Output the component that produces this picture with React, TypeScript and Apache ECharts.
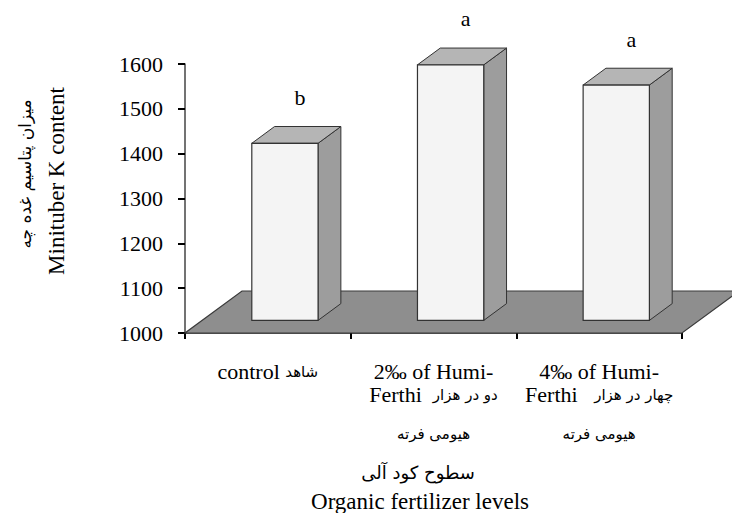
import React, { useEffect, useRef } from 'react';
import * as echarts from 'echarts';

// ---- data ----
const categories = ['control', '2‰ of Humi-Ferthi', '4‰ of Humi-Ferthi'];
const categoryLabels = [
  '{en|control }{fa|شاهد}',
  '{en|2‰ of Humi-}\n{en|Ferthi  }{fa|دو در هزار}\n{fa3|هیومی فرته}',
  '{en|4‰ of Humi-}\n{en|Ferthi   }{fa|چهار در هزار}\n{fa3|هیومی فرته}',
];
const values = [1395, 1570, 1525];
const letters = ['b', 'a', 'a'];
const yMin = 1000;
const yMax = 1600;
const yStep = 100;
const yNameFa = 'میزان پتاسیم غده چه';
const yNameEn = 'Minituber K content';
const xNameFa = 'سطوح کود آلی';
const xNameEn = 'Organic fertilizer levels';

// ---- style ----
const SERIF = "'Liberation Serif', 'Times New Roman', serif";
const FA = "'DejaVu Sans', sans-serif";
const FLOOR_DX = 57;
const FLOOR_DY = -42;
const D0 = 0.3;
const D1 = 0.7;
const BAR_W = 0.4;

export default function App() {
  const ref = useRef<HTMLDivElement>(null);
  useEffect(() => {
    if (!ref.current) return;
    const chart = echarts.init(ref.current, undefined, { renderer: 'svg' });
    chart.setOption({
      animation: false,
      backgroundColor: '#fff',
      grid: { left: 185, right: 50, top: 64, bottom: 180, containLabel: false },
      xAxis: {
        type: 'category',
        data: categories,
        boundaryGap: true,
        axisLine: { show: true, lineStyle: { color: '#222', width: 1.5 } },
        axisTick: { show: true, length: 6, lineStyle: { color: '#000', width: 2 } },
        axisLabel: {
          interval: 0,
          margin: 27,
          formatter: (_v: string, i: number) => categoryLabels[i],
          rich: {
            en: { fontSize: 22, lineHeight: 23, fontFamily: SERIF, color: '#000' },
            fa: { fontSize: 15, lineHeight: 23, fontFamily: FA, color: '#000' },
            fa3: { fontSize: 15, lineHeight: 55, fontFamily: FA, color: '#000' },
          },
        },
        splitLine: { show: false },
      },
      yAxis: {
        type: 'value',
        min: yMin,
        max: yMax,
        interval: yStep,
        axisLine: { show: true, lineStyle: { color: '#444', width: 1.5 } },
        axisTick: { show: true, length: 7, lineStyle: { color: '#000', width: 2 } },
        axisLabel: {
          fontSize: 22,
          fontFamily: SERIF,
          color: '#000',
          margin: 22,
          formatter: (v: number) => String(v),
        },
        splitLine: { show: false },
      },
      series: [
        {
          type: 'custom',
          z: 1,
          data: [[0, yMin]],
          renderItem: (_p: any, api: any) => {
            const bw = api.size([1, 0])[0];
            const [c0, y] = api.coord([0, yMin]);
            const cN = api.coord([categories.length - 1, yMin])[0];
            const l = c0 - bw / 2;
            const r = cN + bw / 2;
            return {
              type: 'polygon',
              shape: {
                points: [
                  [l, y],
                  [r, y],
                  [r + FLOOR_DX, y + FLOOR_DY],
                  [l + FLOOR_DX, y + FLOOR_DY],
                ],
              },
              style: { fill: '#8e8e8e', stroke: '#3a3a3a', lineWidth: 1.2 },
            };
          },
        },
        {
          type: 'custom',
          z: 3,
          data: values.map((v, i) => [i, v]),
          renderItem: (_p: any, api: any) => {
            const i = api.value(0);
            const v = api.value(1);
            const bw = api.size([1, 0])[0];
            const [cx, y0] = api.coord([i, yMin]);
            const yv = api.coord([i, v])[1];
            const w = bw * BAR_W;
            const fx = cx - w / 2 + FLOOR_DX * D0;
            const fy0 = y0 + FLOOR_DY * D0;
            const fyt = yv + FLOOR_DY * D0;
            const ddx = FLOOR_DX * (D1 - D0);
            const ddy = FLOOR_DY * (D1 - D0);
            const stroke = '#333';
            return {
              type: 'group',
              children: [
                {
                  type: 'polygon',
                  shape: {
                    points: [
                      [fx + w, fyt],
                      [fx + w + ddx, fyt + ddy],
                      [fx + w + ddx, fy0 + ddy],
                      [fx + w, fy0],
                    ],
                  },
                  style: { fill: '#9d9d9d', stroke, lineWidth: 1 },
                },
                {
                  type: 'polygon',
                  shape: {
                    points: [
                      [fx, fyt],
                      [fx + w, fyt],
                      [fx + w + ddx, fyt + ddy],
                      [fx + ddx, fyt + ddy],
                    ],
                  },
                  style: { fill: '#b5b5b5', stroke, lineWidth: 1 },
                },
                {
                  type: 'rect',
                  shape: { x: fx, y: fyt, width: w, height: fy0 - fyt },
                  style: { fill: '#f4f4f4', stroke, lineWidth: 1.2 },
                },
                {
                  type: 'text',
                  x: fx + w / 2 + 15,
                  y: fyt - 46,
                  style: {
                    text: letters[i],
                    fontSize: 22,
                    fontFamily: SERIF,
                    fill: '#000',
                    align: 'center',
                    verticalAlign: 'middle',
                  },
                },
              ],
            };
          },
        },
      ],
      graphic: [
        {
          type: 'text',
          x: 25,
          y: 174,
          rotation: Math.PI / 2,
          style: { text: yNameFa, fontSize: 17, fontFamily: FA, fill: '#000', align: 'center', verticalAlign: 'middle' },
        },
        {
          type: 'text',
          x: 56,
          y: 181,
          rotation: Math.PI / 2,
          style: { text: yNameEn, fontSize: 23, fontFamily: SERIF, fill: '#000', align: 'center', verticalAlign: 'middle' },
        },
        {
          type: 'text',
          x: 418,
          y: 472,
          style: { text: xNameFa, fontSize: 18, fontFamily: FA, fill: '#000', align: 'center', verticalAlign: 'middle' },
        },
        {
          type: 'text',
          x: 420,
          y: 501,
          style: { text: xNameEn, fontSize: 23, fontFamily: SERIF, fill: '#000', align: 'center', verticalAlign: 'middle' },
        },
      ],
    });
    return () => chart.dispose();
  }, []);
  return <div ref={ref} style={{ position: 'fixed', left: 0, top: 0, width: 732, height: 513 }} />;
}
